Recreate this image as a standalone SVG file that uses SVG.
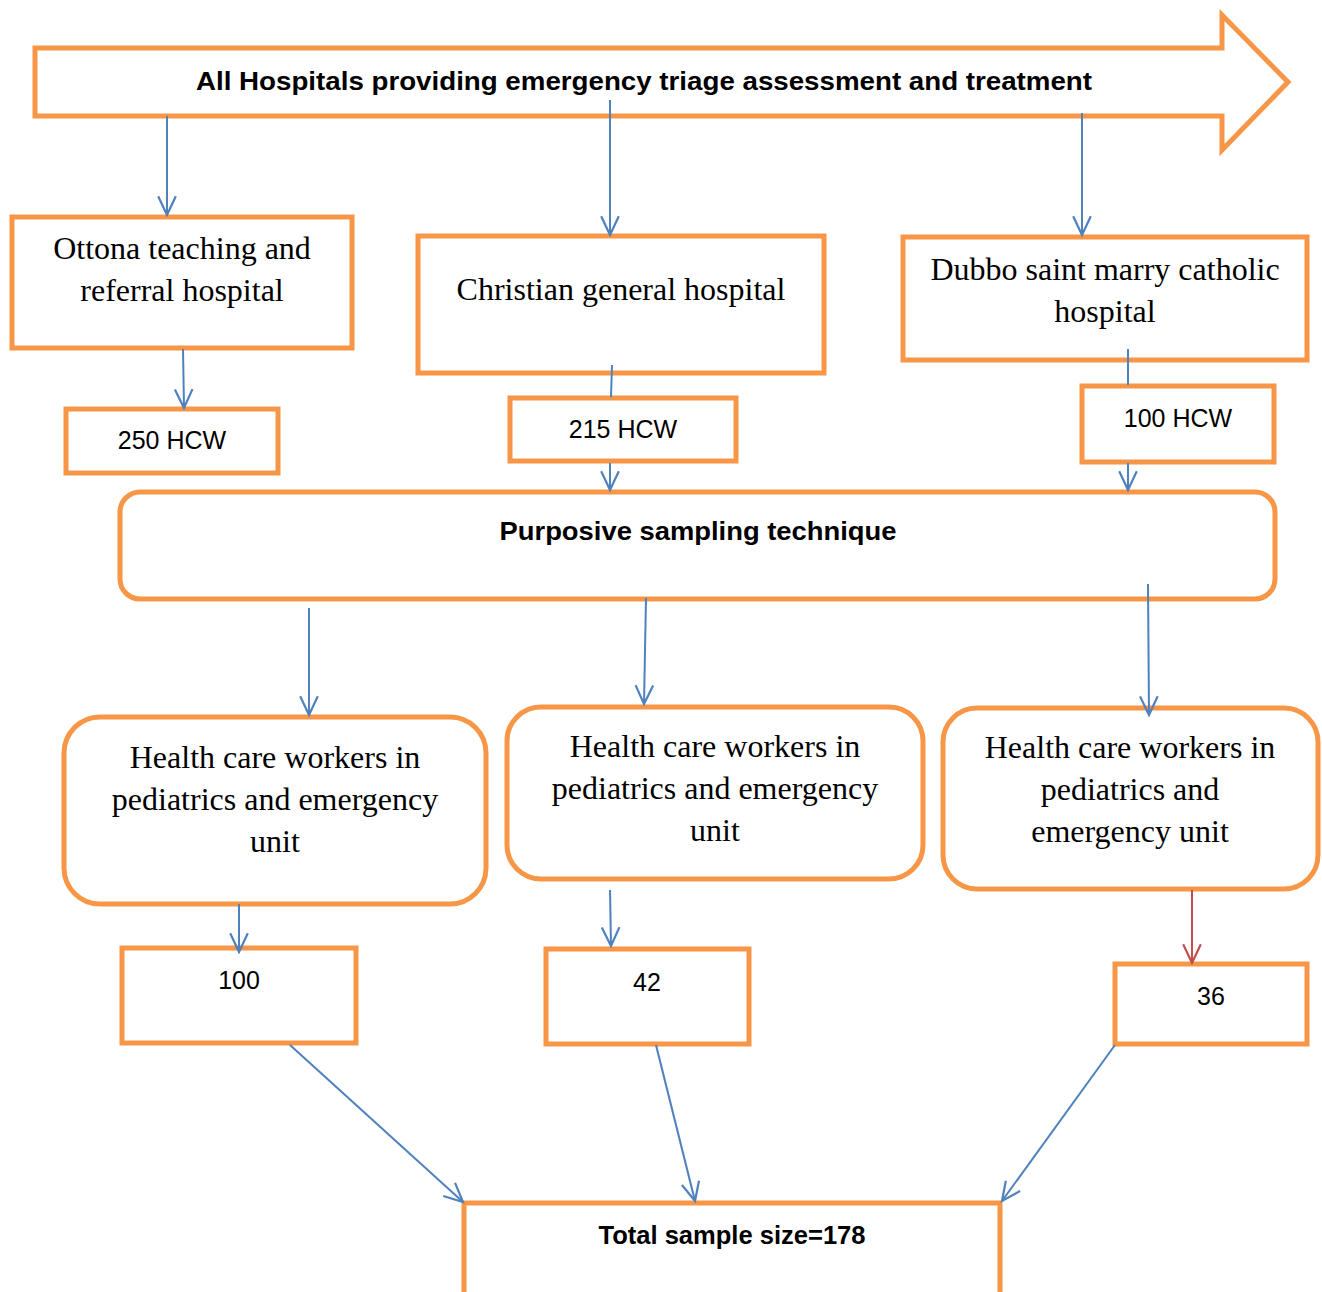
<svg xmlns="http://www.w3.org/2000/svg" width="1322" height="1292" viewBox="0 0 1322 1292">
<defs>
<style>
.box{fill:#fff;stroke:#F79646;stroke-width:5}
.ln{stroke:#4F81BD;stroke-width:2;fill:none}
.red{stroke:#C0504D;stroke-width:2;fill:none}
.serif{font-family:"Liberation Serif","Times New Roman",serif;font-size:32px;fill:#000;text-anchor:middle}
.sans{font-family:"Liberation Sans",Arial,sans-serif;font-size:25px;fill:#000;text-anchor:middle}
.bold{font-family:"Liberation Sans",Arial,sans-serif;font-size:25px;font-weight:bold;fill:#000;text-anchor:middle}
</style>
<marker id="ah" markerUnits="userSpaceOnUse" markerWidth="22" markerHeight="22" refX="18" refY="9" orient="auto" viewBox="0 0 20 18">
<path d="M1,1 L18,9 L1,17" fill="none" stroke="#4F81BD" stroke-width="2"/>
</marker>
<marker id="ahr" markerUnits="userSpaceOnUse" markerWidth="22" markerHeight="22" refX="18" refY="9" orient="auto" viewBox="0 0 20 18">
<path d="M1,1 L18,9 L1,17" fill="none" stroke="#C0504D" stroke-width="2"/>
</marker>
</defs>
<rect width="1322" height="1292" fill="#fff"/>

<g id="top-arrow">
<path class="box" d="M35,48 L1222,48 L1222,15 L1288,82 L1222,150 L1222,116 L35,116 Z"/>
<text class="bold" x="644" y="90" textLength="896" lengthAdjust="spacingAndGlyphs">All Hospitals providing emergency triage assessment and treatment</text>
</g>

<g id="ottona">
<rect class="box" x="12" y="217" width="340" height="131"/>
<text class="serif" x="182" y="259">Ottona teaching and</text>
<text class="serif" x="182" y="301">referral hospital</text>
</g>
<g id="christian">
<rect class="box" x="418" y="236" width="406" height="137"/>
<text class="serif" x="621" y="300">Christian general hospital</text>
</g>
<g id="dubbo">
<rect class="box" x="903" y="237" width="404" height="123"/>
<text class="serif" x="1105" y="280">Dubbo saint marry catholic</text>
<text class="serif" x="1105" y="322">hospital</text>
</g>

<g id="hcw250">
<rect class="box" x="66" y="409" width="212" height="64"/>
<text class="sans" x="172" y="449">250 HCW</text>
</g>
<g id="hcw215">
<rect class="box" x="510" y="398" width="226" height="63"/>
<text class="sans" x="623" y="438">215 HCW</text>
</g>
<g id="hcw100">
<rect class="box" x="1082" y="386" width="192" height="76"/>
<text class="sans" x="1178" y="427">100 HCW</text>
</g>

<g id="purposive">
<rect class="box" x="120" y="492" width="1155" height="107" rx="20"/>
<text class="bold" x="698" y="540" textLength="397" lengthAdjust="spacingAndGlyphs">Purposive sampling technique</text>
</g>

<g id="hcw-left">
<rect class="box" x="64" y="717" width="422" height="187" rx="36"/>
<text class="serif" x="275" y="768">Health care workers in</text>
<text class="serif" x="275" y="810">pediatrics and emergency</text>
<text class="serif" x="275" y="852">unit</text>
</g>
<g id="hcw-mid">
<rect class="box" x="507" y="707" width="416" height="172" rx="34"/>
<text class="serif" x="715" y="757">Health care workers in</text>
<text class="serif" x="715" y="799">pediatrics and emergency</text>
<text class="serif" x="715" y="841">unit</text>
</g>
<g id="hcw-right">
<rect class="box" x="943" y="708" width="375" height="181" rx="34"/>
<text class="serif" x="1130" y="758">Health care workers in</text>
<text class="serif" x="1130" y="800">pediatrics and</text>
<text class="serif" x="1130" y="842">emergency unit</text>
</g>

<g id="n100">
<rect class="box" x="122" y="948" width="234" height="95"/>
<text class="sans" x="239" y="989">100</text>
</g>
<g id="n42">
<rect class="box" x="546" y="949" width="203" height="95"/>
<text class="sans" x="647" y="991">42</text>
</g>
<g id="n36">
<rect class="box" x="1115" y="964" width="192" height="80"/>
<text class="sans" x="1211" y="1005">36</text>
</g>

<g id="total">
<path class="box" d="M464,1300 L464,1203 L1000,1203 L1000,1300"/>
<text class="bold" x="732" y="1244" textLength="267" lengthAdjust="spacingAndGlyphs">Total sample size=178</text>
</g>

<g id="connectors">
<line class="ln" x1="167" y1="116" x2="167" y2="215" marker-end="url(#ah)"/>
<line class="ln" x1="610" y1="100" x2="610" y2="235" marker-end="url(#ah)"/>
<line class="ln" x1="1082" y1="113" x2="1082" y2="235" marker-end="url(#ah)"/>
<line class="ln" x1="183" y1="349" x2="184" y2="408" marker-end="url(#ah)"/>
<line class="ln" x1="612" y1="365" x2="611" y2="397"/>
<line class="ln" x1="1128" y1="349" x2="1128" y2="385"/>
<line class="ln" x1="610" y1="463" x2="610" y2="490" marker-end="url(#ah)"/>
<line class="ln" x1="1128" y1="463" x2="1128" y2="490" marker-end="url(#ah)"/>
<line class="ln" x1="309" y1="608" x2="309" y2="715" marker-end="url(#ah)"/>
<line class="ln" x1="646" y1="598" x2="644" y2="704" marker-end="url(#ah)"/>
<line class="ln" x1="1148" y1="584" x2="1149" y2="715" marker-end="url(#ah)"/>
<line class="ln" x1="239" y1="904" x2="239" y2="952" marker-end="url(#ah)"/>
<line class="ln" x1="610" y1="890" x2="611" y2="946" marker-end="url(#ah)"/>
<line class="red" x1="1192" y1="890" x2="1192" y2="963" marker-end="url(#ahr)"/>
<line class="ln" x1="290" y1="1045" x2="463" y2="1202" marker-end="url(#ah)"/>
<line class="ln" x1="656" y1="1045" x2="695" y2="1201" marker-end="url(#ah)"/>
<line class="ln" x1="1115" y1="1045" x2="1002" y2="1201" marker-end="url(#ah)"/>
</g>
</svg>
